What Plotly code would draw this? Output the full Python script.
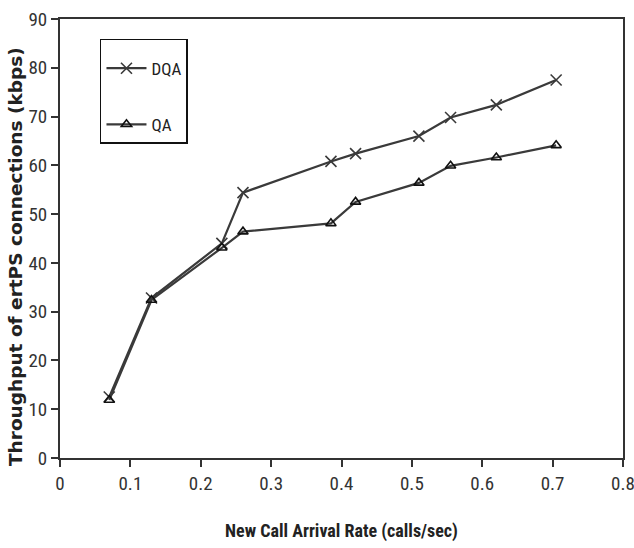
import plotly.graph_objects as go

x_vals = [0.07, 0.13, 0.23, 0.26, 0.385, 0.42, 0.51, 0.555, 0.62, 0.705]
dqa = [12.5, 32.8, 44.0, 54.4, 60.8, 62.4, 66.0, 69.8, 72.4, 77.5]
qa = [11.9, 32.4, 43.1, 46.4, 48.1, 52.5, 56.4, 59.9, 61.6, 64.1]
x_ticks = [0, 0.1, 0.2, 0.3, 0.4, 0.5, 0.6, 0.7, 0.8]
x_tick_labels = ["0", "0.1", "0.2", "0.3", "0.4", "0.5", "0.6", "0.7", "0.8"]
y_ticks = [0, 10, 20, 30, 40, 50, 60, 70, 80, 90]

narrow = "Liberation Sans Narrow, Arial Narrow, Roboto Condensed, sans-serif"
line_col = "#3a3a3a"

fig = go.Figure()
fig.add_trace(go.Scatter(
    x=x_vals, y=dqa, name="DQA", mode="lines+markers", legendgroup="a",
    line=dict(color=line_col, width=2.2),
    marker=dict(symbol="x-thin-open", size=11, line=dict(color="#111", width=1.6)),
))
fig.add_trace(go.Scatter(
    x=x_vals, y=qa, name="QA", mode="lines+markers", legendgroup="b",
    line=dict(color=line_col, width=2.2),
    marker=dict(symbol="triangle-up-open", size=9, color="#111", line=dict(color="#111", width=1.6)),
))

fig.update_layout(
    width=634, height=548,
    margin=dict(l=60, r=11, t=19, b=90),
    paper_bgcolor="white", plot_bgcolor="white",
    showlegend=True,
    legend=dict(
        x=0.071, y=0.955, xanchor="left", yanchor="top",
        bordercolor="#111", borderwidth=1.5, bgcolor="white",
        font=dict(family=narrow, size=17, color="#222"),
        tracegroupgap=31, itemwidth=40,
        title=dict(text=" ", font=dict(size=8)),
    ),
    font=dict(family=narrow, color="#333"),
    annotations=[dict(
        text="<b>Throughput of ertPS connections (kbps)</b>",
        xref="paper", yref="paper", x=-0.08, y=0.46,
        xanchor="center", yanchor="middle", textangle=-90, showarrow=False,
        font=dict(family="DejaVu Sans, Verdana, sans-serif", size=18.5, color="#222"),
    )],
)
fig.update_xaxes(
    range=[0, 0.8], tickvals=x_ticks, ticktext=x_tick_labels,
    automargin=False, ticklabeloverflow="allow",
    showgrid=False, zeroline=False,
    showline=True, linecolor="#333", linewidth=2, mirror=True,
    ticks="outside", ticklen=7, tickwidth=1.5, tickcolor="#333",
    tickfont=dict(family=narrow, size=19, color="#333"),
    title=dict(text="<b>New Call Arrival Rate (calls/sec)</b>", standoff=31,
               font=dict(family=narrow, size=18, color="#222")),
)
fig.update_yaxes(
    range=[0, 90], tickvals=y_ticks,
    automargin=False, ticklabeloverflow="allow",
    showgrid=False, zeroline=False,
    showline=True, linecolor="#333", linewidth=2, mirror=True,
    ticks="outside", ticklen=7, tickwidth=1.5, tickcolor="#333",
    tickfont=dict(family=narrow, size=19, color="#333"),
)

fig.write_html("out.html")
